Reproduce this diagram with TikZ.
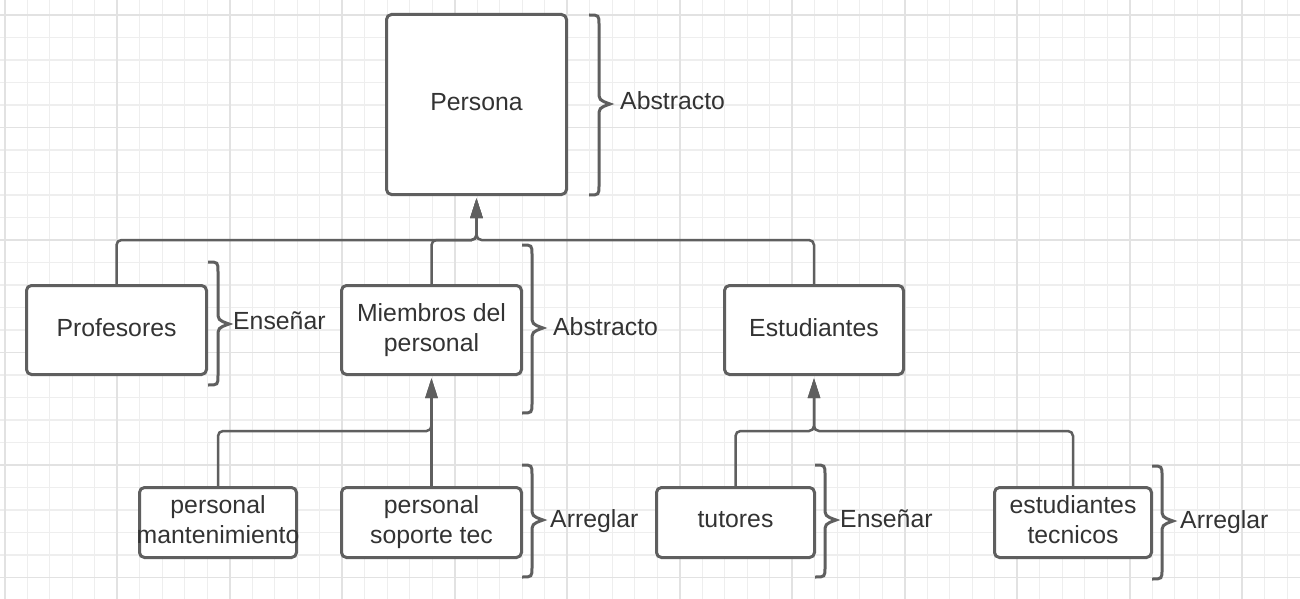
\documentclass[tikz,border=0pt]{standalone}
\usepackage{fontspec}
\setmainfont{Liberation Sans}
\usetikzlibrary{arrows.meta}
\definecolor{linec}{HTML}{5F5F5F}
\definecolor{textc}{HTML}{333333}
\definecolor{gridminor}{HTML}{EEEEEE}
\definecolor{gridmajor}{HTML}{E2E2E2}
\tikzset{
  box/.style={draw=linec, line width=3pt, rounded corners=5pt, fill=white, align=center,
    inner sep=0pt, text=textc, font=\fontsize{24.8}{30}\selectfont, text depth=5.5pt},
  conn/.style={draw=linec, line width=2.5pt, rounded corners=5pt, shorten >=2pt,
    -{Triangle[width=12pt,length=20pt]}},
  brc/.style={draw=linec, line width=3pt},
  lbl/.style={anchor=west, inner sep=0pt, text=textc, font=\fontsize{24.8}{30}\selectfont,
    text height=17.7pt, text depth=0pt},
  gmin/.style={draw=gridminor, line width=1.3pt},
  gmaj/.style={draw=gridmajor, line width=1.8pt},
}
\newcommand{\curlybrace}[4]{%
  \draw[brc] (#1,#2) .. controls (#1+10,#2) .. (#1+10,#2+10) -- (#1+10,#4-13)
    .. controls (#1+10,#4-4) .. (#1+21,#4) .. controls (#1+10,#4+4) .. (#1+10,#4+13)
    -- (#1+10,#3-10) .. controls (#1+10,#3) .. (#1,#3);}
\begin{document}
\begin{tikzpicture}[x=1pt,y=-1pt]
\useasboundingbox (0,0) rectangle (1300,599);
\fill[white] (0,0) rectangle (1300,599);
% grid
\foreach \i in {0,...,57} \draw[gmin] ({4.8+22.5*\i},0) -- ({4.8+22.5*\i},599);
\foreach \j in {0,...,26} \draw[gmin] (0,{15+22.5*\j}) -- (1300,{15+22.5*\j});
\foreach \i in {0,...,11} \draw[gmaj] ({4.8+112.5*\i},0) -- ({4.8+112.5*\i},599);
\foreach \j in {0,...,5} \draw[gmaj] (0,{15+112.5*\j}) -- (1300,{15+112.5*\j});

% nodes
\node[box, minimum width=180pt, minimum height=180pt] (persona) at (476.5,104.5) {Persona};
\node[box, minimum width=180pt, minimum height=89pt] (prof) at (116.5,330) {Profesores};
\node[box, minimum width=180pt, minimum height=89pt] (miem) at (431.5,330) {Miembros del\\personal};
\node[box, minimum width=179pt, minimum height=89pt] (estu) at (814,330) {Estudiantes};
\node[box, minimum width=157pt, minimum height=70pt] (mant) at (218,522.5) {personal\\\makebox[0pt][c]{mantenimiento}};
\node[box, minimum width=180pt, minimum height=70pt] (sop) at (431.5,522.5) {personal\\soporte tec};
\node[box, minimum width=158pt, minimum height=70pt] (tut) at (735.5,522.5) {tutores};
\node[box, minimum width=157pt, minimum height=70pt] (estt) at (1073,522.5) {estudiantes\\tecnicos};

% connectors
\coordinate (b1) at (476.5,240);
\draw[conn] (prof.north) |- (b1) -- (persona.south);
\draw[conn] (miem.north) |- (b1) -- (persona.south);
\draw[conn] (estu.north) |- (b1) -- (persona.south);
\coordinate (b2) at (431.5,431);
\draw[conn] (mant.north) |- (b2) -- (miem.south);
\draw[conn] (sop.north) -- (miem.south);
\coordinate (b3) at (814,431);
\draw[conn] (tut.north) |- (b3) -- (estu.south);
\draw[conn] (estt.north) |- (b3) -- (estu.south);

% braces
\curlybrace{589}{15}{195}{104}
\curlybrace{208}{262}{385}{324}
\curlybrace{522}{245}{413}{328}
\curlybrace{522}{465}{577}{520}
\curlybrace{815}{465}{577}{520}
\curlybrace{1152}{466}{579}{521}

% labels
\node[lbl] (l1) at (620,101) {Abstracto};
\node[lbl] (l2) at (233,321) {Enseñar};
\node[lbl] (l3) at (553,327) {Abstracto};
\node[lbl] (l4) at (550,519) {Arreglar};
\node[lbl] (l5) at (840,519) {Enseñar};
\node[lbl] (l6) at (1180,520) {Arreglar};
\end{tikzpicture}
\end{document}
